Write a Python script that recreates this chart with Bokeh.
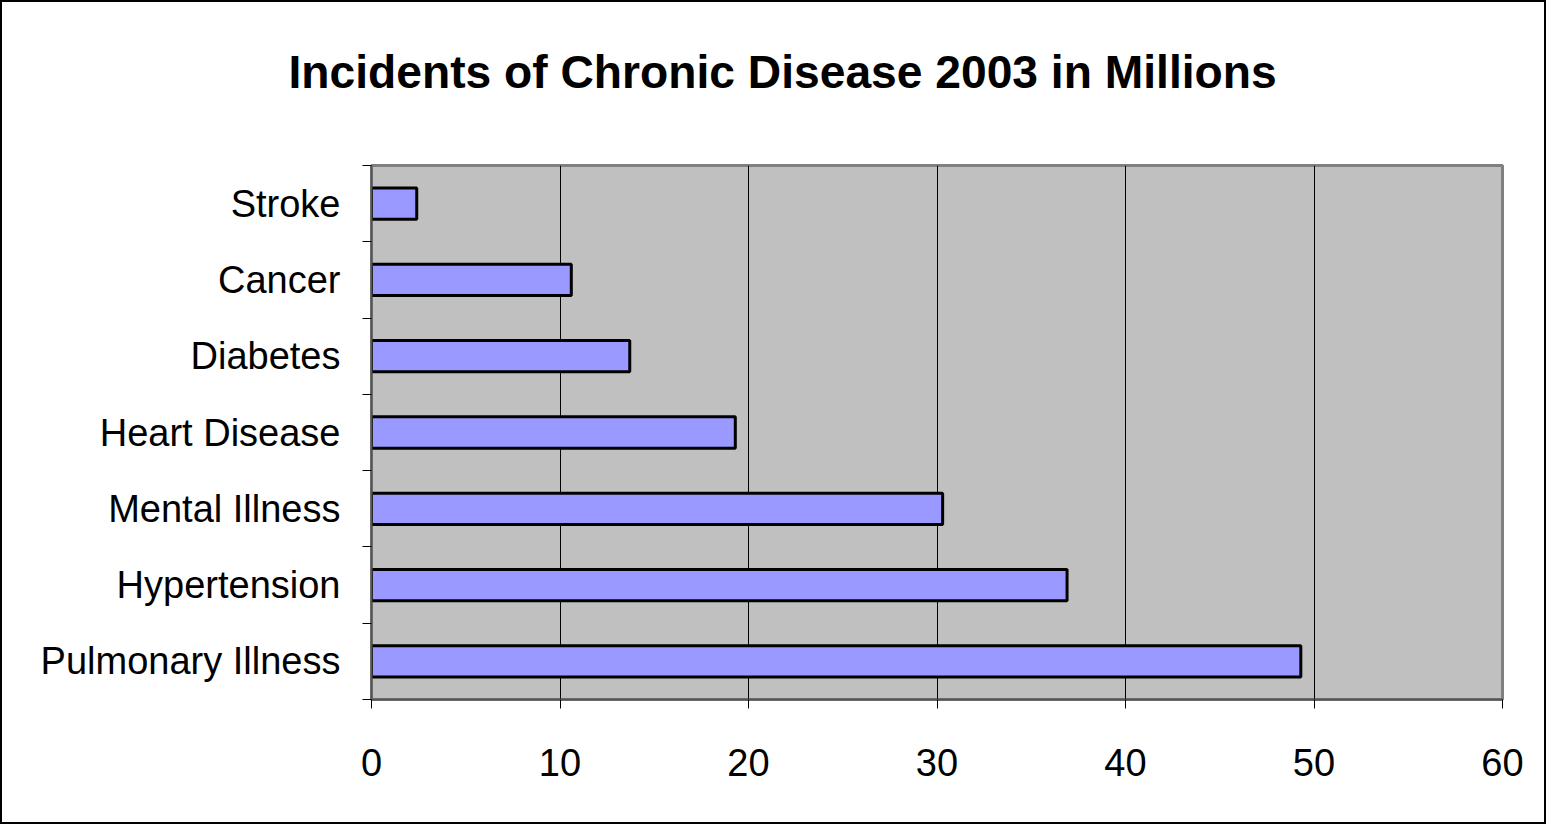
from bokeh.plotting import figure
from bokeh.models import FixedTicker, Range1d, Title
from bokeh.embed import file_html
from bokeh.resources import INLINE

categories = ["Pulmonary Illness", "Hypertension", "Mental Illness",
              "Heart Disease", "Diabetes", "Cancer", "Stroke"]
values = [49.3, 36.9, 30.3, 19.3, 13.7, 10.6, 2.4]
x_ticks = [0, 10, 20, 30, 40, 50, 60]
title_text = "Incidents of Chronic Disease 2003 in Millions"

positions = [i + 0.5 for i in range(len(categories))]
boundaries = list(range(len(categories) + 1))

FONT = "Liberation Sans"

p = figure(width=1546, height=824, output_backend="svg", toolbar_location=None,
           x_range=Range1d(0, 60), y_range=Range1d(0, len(categories)),
           min_border_left=369, min_border_right=46,
           min_border_top=163, min_border_bottom=127, title=None)
p.background_fill_color = "#C0C0C0"
p.border_fill_color = "white"
p.outline_line_color = "#808080"
p.outline_line_width = 3
p.styles = {"border": "2px solid black"}

# spacer panel between the frame and the title
spacer = Title(text=" ", text_font_size="1px", standoff=60)
p.add_layout(spacer, "above")
main_title = Title(text=title_text, text_font=FONT, text_font_size="46.2px",
                   text_font_style="bold", text_color="black",
                   align="left", offset=-83, standoff=10)
p.add_layout(main_title, "above")

p.hbar(y=positions, right=values, left=0, height=0.41,
       fill_color="#9999FF", line_color="black", line_width=3)

# grid
p.ygrid.visible = False
p.xgrid.grid_line_color = "black"
p.xgrid.grid_line_width = 1
p.xgrid.grid_line_alpha = 1.0

# x axis
p.xaxis.ticker = FixedTicker(ticks=x_ticks)
p.xaxis.axis_line_color = "#555555"
p.xaxis.axis_line_width = 2
p.xaxis.major_tick_out = 9
p.xaxis.major_tick_in = 0
p.xaxis.major_tick_line_color = "black"
p.xaxis.minor_tick_line_color = None
p.xaxis.major_label_text_font = FONT
p.xaxis.major_label_text_font_size = "38px"
p.xaxis.major_label_text_color = "black"
p.xaxis.major_label_standoff = 40

# y axis
p.yaxis.ticker = FixedTicker(ticks=positions, minor_ticks=boundaries)
p.yaxis.major_label_overrides = {pos: cat for pos, cat in zip(positions, categories)}
p.yaxis.axis_line_color = "#555555"
p.yaxis.axis_line_width = 2
p.yaxis.major_tick_out = 0
p.yaxis.major_tick_in = 0
p.yaxis.minor_tick_out = 9
p.yaxis.minor_tick_in = 0
p.yaxis.minor_tick_line_color = "black"
p.yaxis.major_label_text_font = FONT
p.yaxis.major_label_text_font_size = "38px"
p.yaxis.major_label_text_color = "black"
p.yaxis.major_label_standoff = 22

open("out.html", "w").write(file_html(p, INLINE))
